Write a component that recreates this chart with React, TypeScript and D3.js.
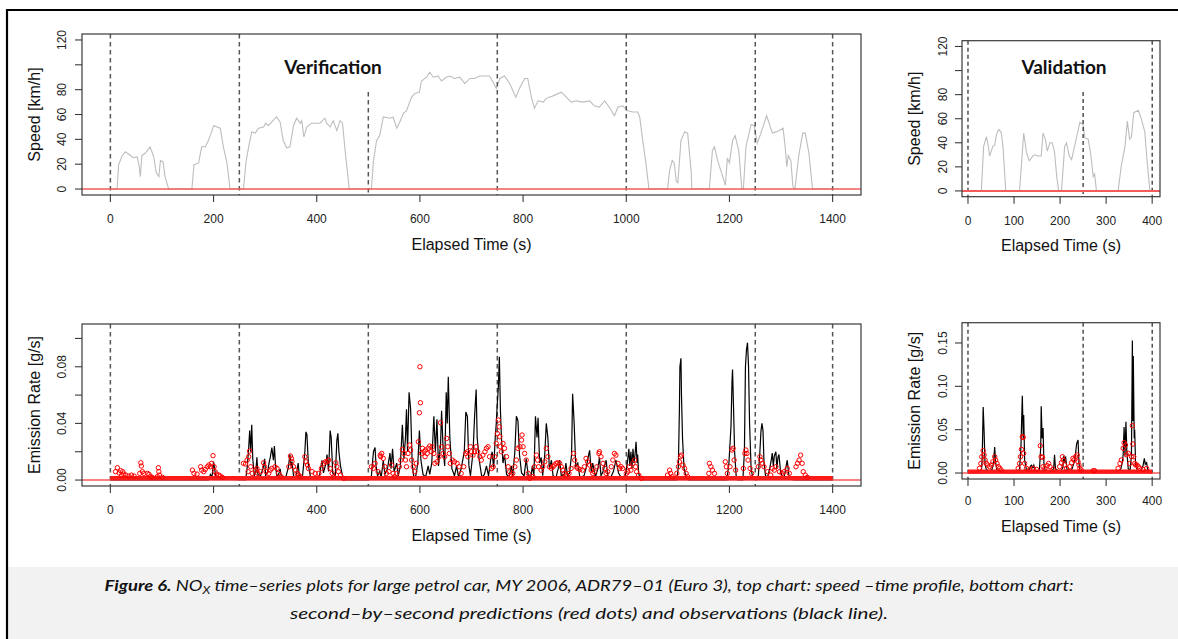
import React from "react";
import * as d3 from "d3";

type Pt = [number, number];

// ---------- DATA ----------
// Speed (km/h) vs elapsed time (s)
const speedVerification: Pt[] = [
  [0,0],[13,0],[16,19.5],[22,26],[29,30],[39,27],[45,25],[52,26],[56,18],[58,10],[61,27],[68,29],[77,34],[84,26],[89,13],[94,10],[97,23],[102,22],[106,10],[113,0],
  [158,0],[162,19.5],[171,21],[177,34],[184,34],[190,39],[197,47],[200,51],[213,49],[219,34],[226,21],[232,0],
  [258,0],[263,22],[268,34],[274,46],[281,45],[287,49],[297,50],[301,53],[306,51],[313,54],[322,58],[329,54],[335,39],[342,33],[348,34],[355,51],[361,57],[368,53],[371,55],[375,42],[381,50],[390,53],[406,53],[416,57],[419,53],[426,50],[432,55],[439,47],[445,55],[450,53],[455,31],[463,0],
  [506,0],[510,23],[516,39],[522,43],[529,58],[542,57],[548,58],[555,49],[561,54],[568,61],[574,63],[584,74],[590,77],[599,78],[603,87],[613,90],[619,94],[626,90],[635,91],[642,87],[651,90],[658,91],[667,89],[677,90],[687,85],[697,89],[706,89],[716,91],[726,91],[735,91],[742,86],[748,81],[755,89],[764,91],[774,85],[786,74],[793,81],[803,89],[809,89],[816,74],[822,65],[829,71],[839,70],[845,73],[858,75],[874,78],[884,74],[893,70],[903,71],[916,70],[929,71],[938,67],[948,66],[958,71],[967,66],[977,59],[984,66],[993,67],[1003,63],[1013,62],[1022,62],[1026,58],[1032,39],[1038,21],[1044,0],
  [1080,0],[1084,15],[1089,23],[1093,21],[1097,6],[1100,5],[1106,39],[1113,46],[1119,45],[1126,13],[1127,0],
  [1161,0],[1167,31],[1171,34],[1177,23],[1187,10],[1192,3],[1196,25],[1200,21],[1206,39],[1211,43],[1218,31],[1224,0],[1227,0],[1232,34],[1242,52],[1248,51],[1254,37],[1261,45],[1272,59],[1277,53],[1283,45],[1290,46],[1296,47],[1304,49],[1308,34],[1311,18],[1314,27],[1319,23],[1323,2],[1327,0],[1334,26],[1342,45],[1347,45],[1354,29],[1361,0],[1400,0]
];

const speedValidation: Pt[] = [
  [0,0],[29,0],[34,37],[40,45],[43,40],[47,29],[54,37],[58,38],[62,47],[67,51],[72,49],[76,37],[82,0],
  [112,0],[121,48],[127,32],[133,25],[141,29],[145,30],[152,29],[159,29],[163,48],[168,43],[172,33],[178,40],[183,40],[188,32],[193,11],[197,0],
  [203,0],[210,37],[214,40],[220,29],[225,26],[236,45],[243,57],[250,55],[254,44],[261,43],[266,32],[272,12],[275,14],[279,0],
  [326,0],[333,21],[341,37],[346,58],[351,43],[355,45],[360,65],[370,67],[377,59],[384,49],[388,29],[395,0],[400,0]
];

// NOx emission rate in mg/s (axis labels shown in g/s)
const noxObsVerification: Pt[] = [
  [0,0],[190,0],[194,4],[197,2],[200,13],[202,8],[205,1],[262,0],[265,8],[268,22],[270,35],[272,20],[274,39],[276,15],[279,3],[282,6],[284,16],[286,4],[290,2],[296,8],[299,15],[301,3],[305,6],[308,13],[310,16],[313,23],[316,14],[318,24],[320,10],[323,2],[327,5],[329,8],[332,1],[340,2],[345,9],[348,18],[350,10],[352,13],[355,3],[360,2],[364,12],[366,4],[372,1],[377,20],[379,34],[381,32],[384,10],[388,2],[395,1],[405,2],[410,14],[413,5],[418,12],[420,18],[423,6],[426,35],[428,30],[431,5],[436,3],[439,28],[441,33],[443,20],[446,10],[450,3],[455,0],
  [500,0],[506,3],[508,12],[510,20],[513,23],[515,10],[518,3],[522,6],[525,2],[529,14],[532,4],[537,8],[542,19],[544,8],[547,22],[550,6],[555,12],[558,3],[562,10],[566,39],[569,15],[572,30],[574,50],[576,20],[579,62],[582,50],[585,12],[588,2],[592,3],[596,12],[599,35],[602,14],[606,4],[611,2],[616,10],[619,4],[623,12],[627,45],[630,20],[633,43],[636,10],[640,25],[642,49],[645,22],[648,10],[651,62],[653,40],[655,73],[658,30],[662,8],[667,3],[671,10],[675,2],[680,8],[686,20],[689,48],[692,45],[695,10],[698,3],[703,20],[706,45],[709,64],[711,30],[715,14],[720,2],[725,4],[729,10],[733,3],[737,14],[740,20],[743,8],[746,30],[748,40],[750,54],[752,65],[754,87],[756,50],[758,30],[761,12],[764,18],[768,4],[773,2],[777,10],[780,3],[784,20],[787,45],[790,42],[793,18],[797,5],[802,3],[806,15],[810,3],[815,2],[818,10],[821,3],[824,45],[827,30],[829,44],[832,12],[835,16],[838,3],[842,18],[845,40],[848,30],[851,8],[855,14],[858,3],[864,2],[868,8],[871,14],[874,3],[880,4],[883,12],[886,3],[890,5],[894,18],[896,61],[899,40],[902,10],[906,12],[910,2],[918,3],[922,8],[926,16],[929,21],[932,6],[935,12],[940,2],[945,8],[948,16],[951,3],[955,6],[958,10],[961,14],[964,3],[970,2],[975,6],[980,14],[985,5],[990,2],[998,3],
  [1002,12],[1005,22],[1007,10],[1009,20],[1011,8],[1013,22],[1015,12],[1017,18],[1019,27],[1021,12],[1022,18],[1024,5],[1026,2],[1030,0],[1098,0],[1101,10],[1103,50],[1104,80],[1106,86],[1107,60],[1109,30],[1112,8],[1116,2],[1120,0],[1195,0],[1199,12],[1203,38],[1205,70],[1206,78],[1208,50],[1210,20],[1213,3],[1216,0],[1226,0],[1229,20],[1231,80],[1233,92],[1235,97],[1237,80],[1239,40],[1242,8],[1245,2],[1252,0],[1256,3],[1259,20],[1261,34],[1263,40],[1265,35],[1267,12],[1270,3],[1274,2],[1278,8],[1281,14],[1283,19],[1285,10],[1287,17],[1290,20],[1292,8],[1294,16],[1296,18],[1299,6],[1302,3],[1306,2],[1310,10],[1312,14],[1315,4],[1318,1],[1325,0],[1400,0]
];

const noxPredVerification: Pt[] = [
  [10,5.9],[13.5,8.7],[17,5],[20,6.6],[22,3.5],[24,5.9],[26,4.2],[30,3.5],[36,2.8],[41,3.5],[46,2.8],
  [57,4.7],[59,12.2],[60,9.9],[62,5.9],[65,4.7],[72,4.7],[75,4],[78,2.4],[81,1.9],
  [91,2.4],[93,8.7],[94,5.9],[95,3.5],[101,1.9],
  [159,7],[162,4.7],[168,4.2],[175,9.4],[177,7],[181,5.9],[184,7.5],[188,9.4],[191,10.6],[194,9.4],[196,11.8],[199,17.2],[201,9.4],[203,5.9],[206,4.2],[210,3.5],[213,2.8],[217,1.9],
  [258,11.8],[262,11.3],[265,14.1],[267,5.9],[268,16.5],[270,20.5],[272,9.4],[275,4.7],[281,7],[284,8.2],[286,4.7],[291,5.9],[297,12.2],[299,9.4],[302,5.9],[307,4.7],[310,7],[313,8.2],[319,9.4],[323,8.2],[326,4.7],[331,2.4],
  [346,9.4],[349,17],[351,15.3],[352,12.9],[355,9.4],[359,7],[362,4.7],[365,3.5],[368,2.4],[377,16.5],[379,12.9],[382,10.6],[384,8.2],[391,5.9],[397,4.7],[404,4.7],[409,8.2],[413,11.8],[417,12.9],[420,12.9],[423,14.1],[426,8.2],[430,4.7],[433,2.4],[437,12.2],[439,9.4],[442,5.9],[446,3.5],[452,1.2],
  [506,9.4],[510,8.2],[513,11.8],[519,5.9],[523,17.6],[524,16.5],[526,18.8],[529,15.3],[532,9.4],[535,4.7],[540,5.9],[545,10.6],[548,4.7],[551,2.4],[555,4.7],[560,9.4],[563,14.1],[566,21.6],[569,18.8],[572,14.1],[574,9.4],[577,18.8],[580,24.7],[582,21.2],[584,14.1],[587,9.4],[590,5.9],[593,11.8],[597,27],[599,47.5],[600,80],[601,54.6],[603,18.8],[605,22.4],[608,20],[610,16.5],[611,21.2],[614,18.8],[616,22.4],[619,24],[622,20],[624,23.5],[627,18.8],[629,11.8],[633,12.9],[637,16.5],[640,40.5],[642,23.5],[645,18.8],[648,16.5],[652,29.4],[654,23.5],[657,18.8],[659,11.8],[663,14.1],[667,12.9],[672,11.8],[676,9.4],[680,4.7],[685,9.4],[689,18.8],[692,20],[693,16.5],[698,23.5],[700,20],[703,17.6],[706,20],[709,23.5],[712,20],[716,16.5],[719,14.1],[722,17.6],[726,20],[729,22.4],[732,23.5],[735,16.5],[739,8.2],[742,9.4],[745,16.5],[748,25.9],[750,32.9],[752,42.4],[754,37.6],[755,30.6],[756,23.5],[758,20],[761,25.9],[764,22.4],[768,16.5],[771,9.4],[774,5.9],[777,3.5],[780,4.7],[784,9.4],[787,14.1],[790,22.4],[794,23.5],[797,28.2],[798,31.8],[800,23.5],[803,18.8],[806,14.1],[810,4.7],[813,1.2],[819,2.4],[822,9.4],[826,17.6],[828,14.1],[830,9.4],[835,7],[838,9.4],[842,12.9],[845,22.4],[848,16.5],[851,9.4],[855,8.2],[858,9.4],[861,10.6],[864,11.8],[867,12.2],[871,11.8],[874,9.4],[877,7],[880,4.7],[884,3.5],[889,4.7],[893,8.2],[898,18.8],[900,14.1],[903,9.4],[906,8.2],[910,7.5],[915,7],[919,9.4],[922,15.3],[925,12.9],[929,10.6],[932,7],[935,4.7],[938,5.9],[943,9.4],[947,18.8],[948,20],[951,16.5],[955,11.8],[958,8.2],[961,4.7],[964,5.9],[971,9.4],[974,14.1],[977,18.8],[980,17.6],[984,11.8],[987,8.2],[990,9.4],[993,8.2],[1000,4.7],[1003,5.9],[1006,9.4],[1009,7],[1013,11.8],[1016,14.1],[1018,9.4],[1020,5.9],[1024,3.5],[1029,1.2],
  [1080,3.5],[1084,7],[1086,4.7],[1089,2.4],[1098,4.7],[1101,9.4],[1103,12.9],[1105,16.5],[1107,17.6],[1110,10.6],[1113,8.2],[1116,4.7],[1119,2.4],
  [1160,4.7],[1161,11.8],[1164,9.4],[1167,7],[1171,4.7],[1192,12.9],[1194,9.4],[1196,4.7],[1201,9.4],[1205,21.2],[1207,22.4],[1209,14.1],[1212,7],
  [1227,8.2],[1230,18.8],[1232,21.2],[1234,18.8],[1236,14.1],[1240,8.2],[1243,4.7],[1256,9.4],[1259,16.5],[1261,14.1],[1264,11.8],[1267,9.4],[1274,5.9],[1280,3.5],[1283,8.2],[1287,7],[1290,9.4],[1297,5.9],[1302,4.7],[1306,5.9],[1312,8.2],[1316,4.7],[1329,9.4],[1332,11.8],[1335,14.1],[1338,17.6],[1341,11.8],[1343,5.9],[1347,3.5],[1351,1.9]
];

const noxObsValidation: Pt[] = [
  [0,0],[28,0],[30,8],[31,20],[33,76],[35,48],[37,10],[40,4],[45,2],[52,4],[55,10],[58,30],[60,12],[63,3],[70,1],[80,0],[108,0],[112,5],[115,30],[118,89],[120,40],[121,67],[123,15],[127,3],[132,2],[136,8],[138,9],[141,6],[143,9],[146,3],[155,2],[158,30],[159,77],[161,40],[163,52],[165,10],[168,2],[180,1],[186,5],[188,21],[190,5],[200,1],[206,6],[208,20],[210,12],[212,19],[215,4],[225,3],[232,15],[236,34],[239,38],[241,12],[243,3],[250,1],[300,0],[325,0],[332,5],[335,12],[337,21],[339,53],[341,20],[343,59],[345,25],[348,5],[352,3],[355,20],[357,153],[358,60],[359,135],[361,40],[362,50],[364,10],[368,3],[375,2],[380,8],[383,17],[385,10],[388,12],[390,4],[395,0],[400,0]
];

const noxPredValidation: Pt[] = [
  [25,5.4],[28,11],[30,18.8],[33,25.8],[35,20.8],[37,15],[40,11],[43,9.2],[47,7.3],[51,9.2],[54,13],[58,18.8],[60,15],[63,11],[66,7.3],[69,5.4],[72,3.5],
  [109,5.4],[112,11],[114,18.8],[116,27.3],[118,41.9],[120,41],[121,22.7],[123,11],[127,5.4],[134,4.2],[141,5.4],[149,4.2],
  [157,31.5],[159,18.8],[162,18],[163,7.3],[167,5.4],[172,8.5],[175,11],[178,7.3],[185,4.2],
  [199,7.3],[203,12],[205,18.8],[207,15],[210,9.2],[214,5.4],[221,7.3],[225,12],[228,17],[230,15],[234,18.8],[237,20.8],[239,13],[241,9.2],[243,5.4],[246,3.5],[272,2.7],[275,2.7],
  [326,5.4],[330,11],[333,15],[337,28.5],[339,35],[342,32.3],[344,21.1],[348,22.7],[351,11],[355,18.8],[357,54.6],[358,33.4],[360,18.8],[362,11],[364,9.2],[367,9.2],[370,7.3],[373,5.4],[380,4.2],[388,5.4]
];

// Dense near-zero prediction band: [start s, end s, level mg/s]
const predBaseVerification: [number, number, number][] = [[0, 1400, 1.3]];
const predBaseValidation: [number, number, number][] = [[0, 400, 1.5]];

const phasesVerification = [0, 250, 500, 750, 1000, 1250, 1400];
const phasesValidation = [0, 250, 400];

const xTicksVerification = [0, 200, 400, 600, 800, 1000, 1200, 1400];
const xTicksValidation = [0, 100, 200, 300, 400];
const speedTicks = [0, 20, 40, 60, 80, 100, 120];
const speedTickLabels = ["0", "20", "40", "60", "80", "", "120"];
const noxTicksVerification = [0, 20, 40, 60, 80, 100];
const noxTickLabelsVerification = ["0.00", "", "0.04", "", "0.08", ""];
const noxTicksValidation = [0, 50, 100, 150];
const noxTickLabelsValidation = ["0.00", "0.05", "0.10", "0.15"];

// ---------- LAYOUT ----------
const FONT = "'Liberation Sans', Arial, sans-serif";

interface Spec {
  left: number; right: number; top: number; bottom: number;
  xDomain: [number, number]; yDomain: [number, number];
  xTicks: number[]; yTicks: number[]; yLabels: string[];
  xTickBase: number; yTickBase: number; xTitleBase: number; yTitleBase: number;
  yTitle: string; phases: number[]; dashColor: string; dashArray: string; dashWidth: number;
}

const specTL: Spec = {
  left: 82, right: 861, top: 34, bottom: 195, xDomain: [-55, 1455], yDomain: [-4.8, 124.8],
  xTicks: xTicksVerification, yTicks: speedTicks, yLabels: speedTickLabels,
  xTickBase: 222.5, yTickBase: 66, xTitleBase: 250, yTitleBase: 40, yTitle: "Speed [km/h]",
  phases: phasesVerification, dashColor: "#555", dashArray: "4.5,3.5", dashWidth: 1.5,
};
const specBL: Spec = {
  left: 82, right: 861, top: 324, bottom: 486, xDomain: [-55, 1455], yDomain: [-4.2, 110.2],
  xTicks: xTicksVerification, yTicks: noxTicksVerification, yLabels: noxTickLabelsVerification,
  xTickBase: 514, yTickBase: 66, xTitleBase: 541, yTitleBase: 40, yTitle: "Emission Rate [g/s]",
  phases: phasesVerification, dashColor: "#555", dashArray: "4.5,3.5", dashWidth: 1.5,
};
const specTR: Spec = {
  left: 962, right: 1160, top: 40.7, bottom: 196.7, xDomain: [-13, 417], yDomain: [-4.8, 124.8],
  xTicks: xTicksValidation, yTicks: speedTicks, yLabels: speedTickLabels,
  xTickBase: 224.5, yTickBase: 947, xTitleBase: 250.5, yTitleBase: 920, yTitle: "Speed [km/h]",
  phases: phasesValidation, dashColor: "#111", dashArray: "4,3", dashWidth: 1.1,
};
const specBR: Spec = {
  left: 962, right: 1160, top: 322.7, bottom: 479, xDomain: [-13, 417], yDomain: [-6.9, 173.4],
  xTicks: xTicksValidation, yTicks: noxTicksValidation, yLabels: noxTickLabelsValidation,
  xTickBase: 504.5, yTickBase: 947, xTitleBase: 532, yTitleBase: 920, yTitle: "Emission Rate [g/s]",
  phases: phasesValidation, dashColor: "#111", dashArray: "4,3", dashWidth: 1.1,
};

function scales(s: Spec) {
  const x = d3.scaleLinear().domain(s.xDomain).range([s.left, s.right]);
  const y = d3.scaleLinear().domain(s.yDomain).range([s.bottom, s.top]);
  return { x, y };
}

function Axes({ s }: { s: Spec }) {
  const { x, y } = scales(s);
  const midX = (s.left + s.right) / 2;
  const midY = (s.top + s.bottom) / 2;
  return (
    <g fontFamily={FONT}>
      <rect x={s.left} y={s.top} width={s.right - s.left} height={s.bottom - s.top} fill="none" stroke="#3a3a3a" strokeWidth={1.2} />
      {s.xTicks.map((t) => (
        <g key={"xt" + t}>
          <line x1={x(t)} x2={x(t)} y1={s.bottom} y2={s.bottom + 7} stroke="#3a3a3a" strokeWidth={1.1} />
          <text x={x(t)} y={s.xTickBase} textAnchor="middle" fontSize={12} fill="#222">{t}</text>
        </g>
      ))}
      {s.yTicks.map((t, i) => (
        <g key={"yt" + t}>
          <line x1={s.left - 7} x2={s.left} y1={y(t)} y2={y(t)} stroke="#3a3a3a" strokeWidth={1.1} />
          {s.yLabels[i] ? (
            <text transform={`translate(${s.yTickBase},${y(t)}) rotate(-90)`} textAnchor="middle" fontSize={12} fill="#222">{s.yLabels[i]}</text>
          ) : null}
        </g>
      ))}
      <text x={midX} y={s.xTitleBase} textAnchor="middle" fontSize={16} fill="#111">Elapsed Time (s)</text>
      <text transform={`translate(${s.yTitleBase},${midY}) rotate(-90)`} textAnchor="middle" fontSize={16} fill="#111">{s.yTitle}</text>
    </g>
  );
}

function Phases({ s, cover }: { s: Spec; cover?: { t: number; y0: number } }) {
  const { x } = scales(s);
  return (
    <g>
      {s.phases.map((p) => (
        <line key={"ph" + p} x1={x(p)} x2={x(p)} y1={cover && cover.t === p ? cover.y0 : s.top} y2={s.bottom}
          stroke={s.dashColor} strokeWidth={s.dashWidth} strokeDasharray={s.dashArray} />
      ))}
    </g>
  );
}

function SpeedPanel({ s, data, label, labelX, cover }: { s: Spec; data: Pt[]; label: string; labelX: number; cover: { t: number; y0: number } }) {
  const { x, y } = scales(s);
  const line = d3.line<Pt>().x((d) => x(d[0])).y((d) => y(d[1]));
  return (
    <g>
      <path d={line(data) || ""} fill="none" stroke="#bdbdbd" strokeWidth={1.1} />
      <Phases s={s} cover={cover} />
      <line x1={s.left} x2={s.right} y1={y(0)} y2={y(0)} stroke="#f45b5b" strokeWidth={s.left > 900 ? 2 : 1.4} />
      <text x={labelX} y={74} textAnchor="middle" fontFamily="Lato, 'Open Sans', sans-serif" fontWeight="bold" fontSize={19} fill="#111">{label}</text>
      <Axes s={s} />
    </g>
  );
}

function NoxPanel({ s, obs, pred, base }: { s: Spec; obs: Pt[]; pred: Pt[]; base: [number, number, number][] }) {
  const { x, y } = scales(s);
  const line = d3.line<Pt>().x((d) => x(d[0])).y((d) => y(d[1]));
  return (
    <g>
      <Phases s={s} />
      <path d={line(obs) || ""} fill="none" stroke="#000" strokeWidth={1.2} />
      <line x1={s.left} x2={s.right} y1={y(0)} y2={y(0)} stroke="#f45b5b" strokeWidth={1.4} />
      {base.map((b, i) => (
        <line key={"b" + i} x1={x(b[0])} x2={x(b[1])} y1={y(b[2])} y2={y(b[2])} stroke="#ff1a1a" strokeWidth={4.2} />
      ))}
      {pred.map((d, i) => (
        <circle key={"p" + i} cx={x(d[0])} cy={y(d[1])} r={2.2} fill="none" stroke="#ff0000" strokeWidth={1} />
      ))}
      <Axes s={s} />
    </g>
  );
}

export default function App() {
  return (
    <svg width={1178} height={639} style={{ position: "absolute", left: 0, top: 0, background: "#fff" }}>
      <rect x={0} y={0} width={1178} height={639} fill="#fff" />
      {/* caption background */}
      <rect x={8} y={567} width={1170} height={72} fill="#f2f2f2" />
      {/* outer frame */}
      <line x1={6} x2={1178} y1={10} y2={10} stroke="#000" strokeWidth={2.2} />
      <line x1={7} x2={7} y1={9} y2={639} stroke="#000" strokeWidth={2.2} />

      <SpeedPanel s={specTL} data={speedVerification} label="Verification" labelX={333} cover={{ t: 500, y0: 92 }} />
      <SpeedPanel s={specTR} data={speedValidation} label="Validation" labelX={1064} cover={{ t: 250, y0: 92 }} />
      <NoxPanel s={specBL} obs={noxObsVerification} pred={noxPredVerification} base={predBaseVerification} />
      <NoxPanel s={specBR} obs={noxObsValidation} pred={noxPredValidation} base={predBaseValidation} />

      <g fontFamily="Lato, 'Open Sans', sans-serif" fontStyle="italic" fontSize={16} fill="#111">
        <text x={589} y={591} textAnchor="middle" textLength={969} lengthAdjust="spacingAndGlyphs">
          <tspan fontWeight="bold">{"Figure 6."}</tspan>
          <tspan>{" NO"}</tspan>
          <tspan fontSize={11} dy={3}>{"X"}</tspan>
          <tspan dy={-3}>{" time–series plots for large petrol car, MY 2006, ADR79–01 (Euro 3), top chart: speed –time profile, bottom chart:"}</tspan>
        </text>
        <text x={589} y={619} textAnchor="middle" textLength={598} lengthAdjust="spacingAndGlyphs">
          {"second–by–second predictions (red dots) and observations (black line)."}
        </text>
      </g>
    </svg>
  );
}
